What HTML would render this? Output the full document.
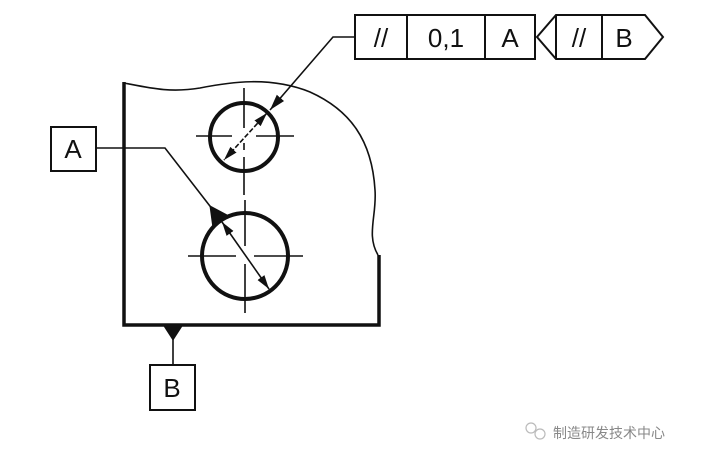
<!DOCTYPE html>
<html><head><meta charset="utf-8"><style>
html,body{margin:0;padding:0;background:#fff;width:712px;height:462px;overflow:hidden}
svg{display:block}
text{font-family:"Liberation Sans",sans-serif;fill:#111}
</style></head><body>
<svg width="712" height="462" viewBox="0 0 712 462" xmlns="http://www.w3.org/2000/svg">
<defs>
<marker id="ar" viewBox="0 0 10 10" refX="10" refY="5" markerWidth="14" markerHeight="14" orient="auto-start-reverse" markerUnits="userSpaceOnUse"><path d="M0,2 L10,5 L0,8 z" fill="#111"/></marker>
<marker id="ar2" viewBox="0 0 10 10" refX="10" refY="5" markerWidth="16" markerHeight="16" orient="auto-start-reverse" markerUnits="userSpaceOnUse"><path d="M0,2 L10,5 L0,8 z" fill="#111"/></marker>
</defs>
<g stroke="#111" fill="none">
<rect x="355" y="15" width="180" height="44" stroke-width="2"/>
<line x1="407" y1="15" x2="407" y2="59" stroke-width="2"/>
<line x1="485" y1="15" x2="485" y2="59" stroke-width="2"/>
<path d="M556,15 L645,15 L663,37 L645,59 L556,59 L537,37 Z" stroke-width="2"/>
<line x1="556" y1="15" x2="556" y2="59" stroke-width="2"/>
<line x1="602" y1="15" x2="602" y2="59" stroke-width="2"/>
<polyline points="355,37 333,37 270,110" stroke-width="1.6" marker-end="url(#ar2)"/>
<path d="M124,83 C150,88 170,93 200,88 C230,82 270,76 310,92 C350,110 372,140 375,190 C377,215 366,235 378,255" stroke-width="1.6"/>
<path d="M124,82 L124,325 L379,325 L379,255" stroke-width="3.5"/>
<circle cx="244" cy="137" r="34" stroke-width="4"/>
<line x1="196" y1="136" x2="232" y2="136" stroke-width="1.6"/>
<line x1="256" y1="136" x2="294" y2="136" stroke-width="1.6"/>
<line x1="244" y1="88" x2="244" y2="128" stroke-width="1.6"/>
<line x1="244" y1="143" x2="244" y2="150" stroke-width="1.6"/>
<line x1="244" y1="157" x2="244" y2="195" stroke-width="1.6"/>
<line x1="267" y1="113" x2="224" y2="160" stroke-width="1.6" marker-start="url(#ar)" marker-end="url(#ar)" stroke-dasharray="5,2"/>
<circle cx="245" cy="256" r="43" stroke-width="4"/>
<line x1="188" y1="256" x2="236" y2="256" stroke-width="1.6"/>
<line x1="254" y1="256" x2="303" y2="256" stroke-width="1.6"/>
<line x1="245" y1="200" x2="245" y2="246" stroke-width="1.6"/>
<line x1="245" y1="264" x2="245" y2="313" stroke-width="1.6"/>
<line x1="222" y1="222" x2="269" y2="289" stroke-width="1.6" marker-start="url(#ar)" marker-end="url(#ar)"/>
<rect x="51" y="127" width="45" height="44" stroke-width="2"/>
<polyline points="96,148 165,148 213,210" stroke-width="1.6"/>
<path d="M210,206 L227,215 L213,228 Z" fill="#111" stroke-width="1"/>
<path d="M164,326 L182,326 L173,340 Z" fill="#111" stroke-width="1"/>
<line x1="173" y1="338" x2="173" y2="365" stroke-width="1.6"/>
<rect x="150" y="365" width="45" height="45" stroke-width="2"/>
</g>
<g font-size="26">
<text x="381" y="47" text-anchor="middle">//</text>
<text x="446" y="47" text-anchor="middle">0,1</text>
<text x="510" y="47" text-anchor="middle">A</text>
<text x="579" y="47" text-anchor="middle">//</text>
<text x="624" y="47" text-anchor="middle">B</text>
<text x="73" y="158" text-anchor="middle">A</text>
<text x="172" y="397" text-anchor="middle">B</text>
</g>
<g stroke="#bbb" fill="none" stroke-width="1.2">
<circle cx="531" cy="428" r="5"/><circle cx="540" cy="434" r="5"/>
</g>
<text x="553" y="438" font-size="14" style="font-family:'Liberation Sans','Noto Sans CJK SC',sans-serif;fill:#888">制造研发技术中心</text>
</svg>
</body></html>
